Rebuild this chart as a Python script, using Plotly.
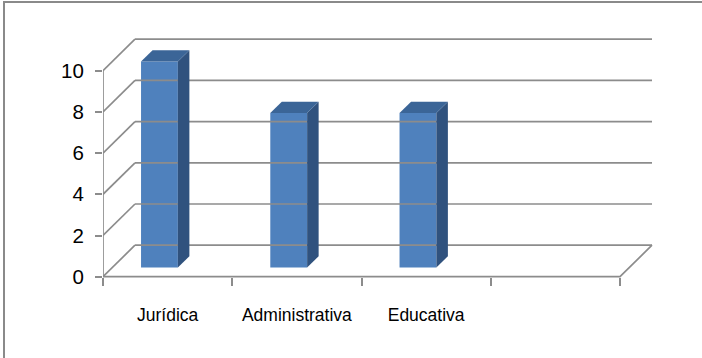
import plotly.graph_objects as go

# ---- data ----
categories = ["Jurídica", "Administrativa", "Educativa"]
values = [10, 7.5, 7.5]
n_slots = 4                       # category slots on the floor (last one empty)
y_ticks = [0, 2, 4, 6, 8, 10]

# ---- geometry of the 3-D look (in data units) ----
W, H = 702, 358
PX_X = 129.25                     # pixels per category slot
PX_Y = 20.6                       # pixels per value unit
X0_PX, Y0_PX = 103, 276.7         # pixel position of the origin
DEPTH_X = 32 / PX_X               # floor depth, horizontal component
DEPTH_Y = 31.5 / PX_Y             # floor depth, vertical component
BAR_START = 0.29                  # bar front as a fraction of floor depth
BAR_DEPTH = 0.36                  # bar depth as a fraction of floor depth
BAR_W = 0.285
BAR_SHIFT = -0.135

GRID = "#8C8C8C"
FRONT = "#4F81BD"
SIDE = "#30527E"
TOP = "#3B6597"
FONT = "Liberation Sans, Arial, sans-serif"

x_range = [0, (W - X0_PX) / PX_X]
y_range = [(Y0_PX - H) / PX_Y, Y0_PX / PX_Y]

fig = go.Figure()

# back wall gridlines, left wall diagonals and the floor outline
gx, gy = [], []
for t in y_ticks:
    gx += [DEPTH_X, n_slots + DEPTH_X, None]
    gy += [t + DEPTH_Y, t + DEPTH_Y, None]
    gx += [0, DEPTH_X, None]
    gy += [t, t + DEPTH_Y, None]
gx += [0, n_slots, n_slots + DEPTH_X, None]
gy += [0, 0, DEPTH_Y, None]
gx += [0, 0, None]
gy += [0, max(y_ticks), None]
fig.add_trace(go.Scatter(x=gx, y=gy, mode="lines",
                         line=dict(color=GRID, width=1.7),
                         hoverinfo="skip", showlegend=False))

# bars: front faces as a bar trace, side and top faces as polygons
base = BAR_START * DEPTH_Y
shift_x = BAR_START * DEPTH_X
bdx = BAR_DEPTH * DEPTH_X
bdy = BAR_DEPTH * DEPTH_Y
centers = [i + 0.5 + BAR_SHIFT + shift_x for i in range(len(categories))]

for c, v in zip(centers, values):
    xl, xr = c - BAR_W / 2, c + BAR_W / 2
    fig.add_trace(go.Scatter(
        x=[xr, xr + bdx, xr + bdx, xr, xr],
        y=[base, base + bdy, base + v + bdy, base + v, base],
        mode="lines", fill="toself", fillcolor=SIDE,
        line=dict(width=0, color=SIDE), hoverinfo="skip", showlegend=False))
    fig.add_trace(go.Scatter(
        x=[xl, xr, xr + bdx, xl + bdx, xl],
        y=[base + v, base + v, base + v + bdy, base + v + bdy, base + v],
        mode="lines", fill="toself", fillcolor=TOP,
        line=dict(width=0, color=TOP), hoverinfo="skip", showlegend=False))

fig.add_trace(go.Bar(x=centers, y=values, base=base, width=BAR_W,
                     marker=dict(color=FRONT, line=dict(width=0)),
                     showlegend=False))

fig.update_layout(
    width=W, height=H,
    margin=dict(l=0, r=0, t=0, b=0),
    paper_bgcolor="white", plot_bgcolor="white",
    font=dict(family=FONT, color="black"),
    showlegend=False,
    xaxis=dict(
        domain=[X0_PX / W, 1], range=x_range,
        anchor="free", position=(H - Y0_PX) / H,
        showline=False, showgrid=False, zeroline=False,
        tickmode="array",
        tickvals=[i + 0.5 for i in range(len(categories))],
        ticktext=categories, ticks="",
        tickfont=dict(size=17.5), ticklabelstandoff=26,
        minor=dict(tickmode="array", tickvals=list(range(n_slots + 1)),
                   ticks="outside", ticklen=8, tickwidth=1.5,
                   tickcolor=GRID, showgrid=False),
    ),
    yaxis=dict(
        domain=[0, 1], range=y_range, anchor="x",
        showline=False, showgrid=False, zeroline=False,
        tickmode="array", tickvals=y_ticks,
        ticks="outside", ticklen=7, tickwidth=1.5, tickcolor=GRID,
        tickfont=dict(size=20.5), ticklabelstandoff=7,
    ),
    shapes=[dict(type="rect", xref="paper", yref="paper",
                 x0=4 / W, x1=1.2, y0=-0.2, y1=1 - 2 / H,
                 line=dict(color="#8A8A8A", width=2), layer="above")],
)

fig.write_html("out.html")
